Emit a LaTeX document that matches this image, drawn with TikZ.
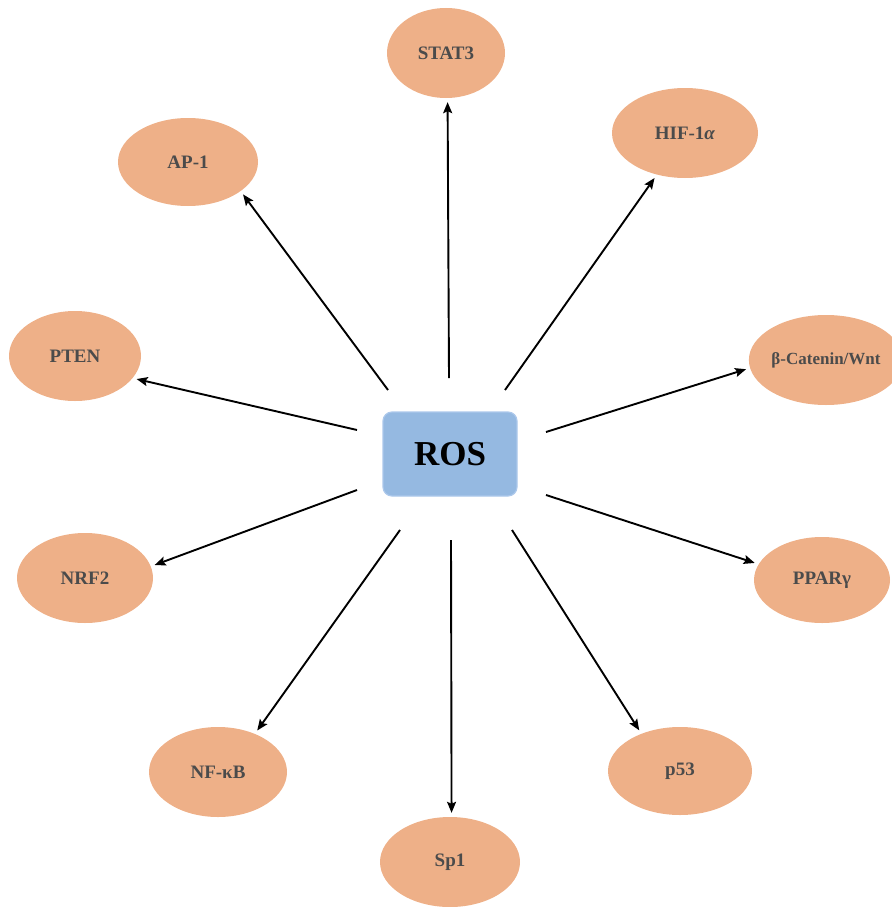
\documentclass[tikz,border=0pt]{standalone}
\usepackage{fontspec}
\setmainfont{Liberation Serif}
\usepackage{xcolor}
\usetikzlibrary{arrows.meta,shapes.geometric,calc}

\definecolor{rosblue}{RGB}{149,185,225}
\definecolor{rosedge}{RGB}{172,200,235}
\definecolor{tfpeach}{RGB}{238,176,136}
\definecolor{tftext}{RGB}{75,75,75}

\begin{document}
\begin{tikzpicture}[
    x=1pt, y=-1pt,
    >={Stealth[length=11pt, width=9pt, inset=2pt]},
    hub/.style={draw=rosedge, line width=1.2pt, fill=rosblue, rounded corners=9pt,
                minimum width=134pt, minimum height=84pt,
                font=\fontsize{35}{38}\selectfont\bfseries},
    tf/.style={ellipse, fill=tfpeach, inner sep=0pt, minimum width=138pt,
               minimum height=90pt, text=tftext, font=\fontsize{19}{22}\selectfont\bfseries},
    link/.style={->, line width=1.9pt, shorten >=4pt},
  ]
    \useasboundingbox (0,0) rectangle (891,907);

    % --- central ROS box ---
    \node[hub] (ros) at (450,454) {ROS};

    % --- transcription factors round the box ---
    \node[tf, minimum width=118pt] (stat3) at (446,53) {STAT3};
    \node[tf, minimum width=140pt, minimum height=88pt] (ap1) at (188,162) {AP-1};
    \node[tf, minimum width=146pt] (hif) at (685,133) {HIF-1\textit{α}};
    \node[tf, minimum width=132pt] (pten) at (75,356) {PTEN};
    \node[tf, minimum width=140pt, font=\fontsize{17}{20}\selectfont\bfseries]
      (bcat) at (826,360) {β-Catenin/Wnt};
    \node[tf, minimum width=136pt] (nrf2) at (85,578) {NRF2};
    \node[tf, minimum width=136pt, minimum height=86pt] (ppar) at (822,580) {PPARγ};
    \node[tf] (nfkb) at (218,772) {NF-κB};
    \node[tf, minimum width=140pt] (sp1) at (450,862) {Sp1};
    \node[tf, minimum width=144pt, minimum height=88pt] (p53) at (680,771) {p53};

    % --- arrow tails, just off the box ---
    \coordinate (t-stat3) at (449,378);
    \coordinate (t-ap1)   at (388,390);
    \coordinate (t-hif)   at (505,390);
    \coordinate (t-pten)  at (357,430);
    \coordinate (t-bcat)  at (546,432);
    \coordinate (t-nrf2)  at (357,490);
    \coordinate (t-ppar)  at (546,495);
    \coordinate (t-nfkb)  at (400,530);
    \coordinate (t-sp1)   at (451,540);
    \coordinate (t-p53)   at (512,530);

    % --- ROS -> targets ---
    \foreach \n/\a in {stat3/-88, ap1/-29, hif/236, pten/-21, bcat/186,
                       nrf2/10, ppar/166, nfkb/46, sp1/88, p53/136}
      \draw[link] (t-\n) -- (\n.\a);
\end{tikzpicture}
\end{document}
